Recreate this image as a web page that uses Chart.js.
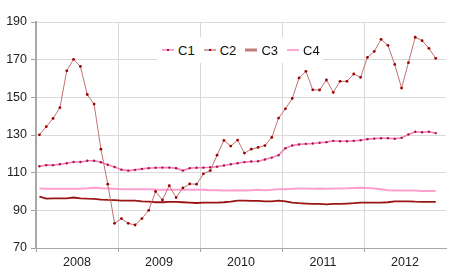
<!DOCTYPE html>
<html>
<head>
<meta charset="utf-8">
<script src="https://cdn.jsdelivr.net/npm/chart.js@4"></script>
<style>
  html, body { margin: 0; padding: 0; background: #ffffff; }
  #wrap { position: relative; width: 450px; height: 279px; }
  #legend {
    position: absolute; left: 157px; top: 37px; height: 26px; width: 166px;
    background: #ffffff; display: flex; align-items: center; padding-left: 5px; box-sizing: border-box;
    font-family: 'Liberation Sans', Arial, sans-serif; font-size: 13px; color: #111111;
  }
  #legend .item { display: flex; align-items: center; width: 41.7px; flex: none; }
  #legend canvas { margin-right: 4px; }
</style>
</head>
<body>
<div id="wrap"><canvas id="chart"></canvas><div id="legend"></div></div>
<script>
// monthly values, Jan 2008 .. Nov 2012
const years = ['2008', '2009', '2010', '2011', '2012'];
const seriesNames = ['C1', 'C2', 'C3', 'C4'];

const c1 = [
  113.4, 114, 114, 114.5, 115, 115.7, 115.7, 116.3, 116.3, 115.5, 114.2, 113,
  111.6, 111.1, 111.5, 112, 112.4, 112.6, 112.7, 112.7, 112.4, 111.1, 112.4, 112.6,
  112.7, 112.9, 113.2, 113.8, 114.5, 115, 115.6, 115.9, 116.1, 117, 118, 119.3,
  123, 124.4, 125, 125.3, 125.5, 125.9, 126.2, 126.9, 126.7, 126.7, 126.9, 127.2,
  127.8, 128.1, 128.3, 128.3, 128, 128.5, 130.3, 131.7, 131.5, 131.7, 131
];
const c2 = [
  130.1, 134.4, 138.8, 144.5, 164.1, 170.2, 166.4, 151.5, 146.4, 122.5, 103.9, 83.1,
  85.6, 83.1, 82.2, 85.6, 90, 100, 95.5, 103.1, 96.8, 101.9, 104, 103.9,
  109.4, 111.1, 119.3, 127.1, 124.1, 127.3, 120.4, 122.5, 123.4, 124.4, 128.7, 139,
  143.9, 149.4, 160.3, 163.8, 154, 153.9, 159.2, 152.6, 158.5, 158.5, 162.4, 160.6,
  171.2, 174.4, 180.8, 177.6, 167.5, 154.9, 168.4, 181.9, 180.1, 176, 170.7
];
const c3 = [
  97.3, 96.2, 96.4, 96.4, 96.4, 96.8, 96.4, 96.2, 96.1, 95.7, 95.5, 95.4,
  95.2, 95.2, 95.2, 94.8, 94.6, 94.3, 94.3, 94.5, 94.5, 94.3, 94.1, 93.9,
  94.1, 94.1, 94.1, 94.3, 94.6, 95.2, 95.2, 95, 95, 94.8, 94.8, 95.2,
  94.8, 94.1, 93.8, 93.6, 93.4, 93.4, 93.2, 93.4, 93.4, 93.6, 93.8, 94.1,
  94.1, 94.1, 94.1, 94.3, 94.8, 94.8, 94.8, 94.6, 94.5, 94.5, 94.5
];
const c4 = [
  101.6, 101.4, 101.4, 101.4, 101.4, 101.4, 101.5, 101.7, 102, 101.7, 101.6, 101.4,
  101.2, 101.2, 101.2, 101.2, 101.2, 101, 100.9, 100.9, 100.9, 100.9, 100.9, 100.9,
  100.9, 100.7, 100.7, 100.5, 100.5, 100.7, 100.5, 100.7, 100.9, 100.7, 100.9, 101.2,
  101.2, 101.4, 101.6, 101.6, 101.4, 101.6, 101.4, 101.6, 101.6, 101.7, 101.9, 102,
  101.9, 101.6, 101.2, 100.7, 100.5, 100.5, 100.5, 100.5, 100.3, 100.3, 100.3
];
const yTicks = [70, 90, 110, 130, 150, 170, 190];

// points sit in the middle of their month
const toPoints = arr => arr.map((v, i) => ({ x: i + 0.5, y: v }));

// small legend swatches: line with optional dot
function makeIcon(lineColor, lineWidth, dotColor) {
  const c = document.createElement('canvas');
  c.width = 12; c.height = 6;
  const g = c.getContext('2d');
  g.strokeStyle = lineColor;
  g.lineWidth = lineWidth;
  g.beginPath(); g.moveTo(0, 3); g.lineTo(12, 3); g.stroke();
  if (dotColor) {
    g.fillStyle = dotColor;
    g.fillRect(5, 2, 2, 2);
  }
  return c;
}
const legendIcons = [
  makeIcon('#f7a6cf', 2, '#b01040'),
  makeIcon('#b54848', 1, '#a00000'),
  makeIcon('#c27a7a', 3, null),
  makeIcon('#ffa6d2', 2, null)
];

// html legend sitting on top of the plot
const htmlLegend = {
  id: 'htmlLegend',
  afterUpdate(chart) {
    const box = document.getElementById('legend');
    box.innerHTML = '';
    chart.data.datasets.forEach((ds, i) => {
      const item = document.createElement('div');
      item.className = 'item';
      item.appendChild(legendIcons[i]);
      const txt = document.createElement('span');
      txt.textContent = ds.label;
      item.appendChild(txt);
      box.appendChild(item);
    });
  }
};

const yearGrid = v => v % 12 === 0 && v > 0 && v < 60;

new Chart(document.getElementById('chart'), {
  type: 'line',
  data: {
    datasets: [
      {
        label: seriesNames[0],
        data: toPoints(c1),
        borderColor: '#f37fbd',
        borderWidth: 1.6,
        pointRadius: 1.2,
        pointBackgroundColor: '#b01040',
        pointBorderWidth: 0,
        order: 2
      },
      {
        label: seriesNames[1],
        data: toPoints(c2),
        borderColor: '#c27272',
        borderWidth: 1,
        pointRadius: 1.4,
        pointBackgroundColor: '#a00000',
        pointBorderWidth: 0,
        order: 1
      },
      {
        label: seriesNames[2],
        data: toPoints(c3),
        borderColor: '#9a1414',
        borderWidth: 1.8,
        pointRadius: 0,
        order: 3
      },
      {
        label: seriesNames[3],
        data: toPoints(c4),
        borderColor: '#ff9fcf',
        borderWidth: 2,
        pointRadius: 0,
        order: 4
      }
    ]
  },
  options: {
    responsive: true,
    maintainAspectRatio: false,
    animation: false,
    events: [],
    layout: { padding: { top: 22, right: 3, bottom: 0, left: 6 } },
    elements: { line: { tension: 0 } },
    plugins: {
      tooltip: { enabled: false },
      legend: { display: false }
    },
    scales: {
      x: {
        type: 'linear',
        min: 0,
        max: 60,
        afterFit(scale) { scale.height = 31; },
        afterBuildTicks(scale) {
          scale.ticks = [];
          for (let v = 0; v <= 60; v += 6) scale.ticks.push({ value: v });
        },
        ticks: {
          autoSkip: false,
          maxRotation: 0,
          padding: 3,
          color: '#222222',
          font: { family: "'Liberation Sans', Arial, sans-serif", size: 12.5 },
          callback: v => (v % 12 === 6 ? years[(v - 6) / 12] : '')
        },
        grid: {
          color: ctx => (ctx.tick && yearGrid(ctx.tick.value) ? '#d8d8d8' : 'rgba(0,0,0,0)'),
          tickColor: ctx => (ctx.tick && ctx.tick.value % 12 === 0 && ctx.tick.value < 60 ? '#a0a0a0' : 'rgba(0,0,0,0)'),
          tickLength: 4,
          lineWidth: 1
        },
        border: { color: '#a8a8a8', width: 1 }
      },
      y: {
        min: 70,
        max: 190,
        afterFit(scale) { scale.width = 30; },
        afterBuildTicks(scale) {
          scale.ticks = yTicks.map(v => ({ value: v }));
        },
        ticks: {
          padding: 4,
          color: '#222222',
          font: { family: "'Liberation Sans', Arial, sans-serif", size: 12.5 }
        },
        grid: {
          color: '#dadada',
          tickColor: '#a0a0a0',
          tickLength: 5,
          lineWidth: 1
        },
        border: { color: '#a8a8a8', width: 2 }
      }
    }
  },
  plugins: [htmlLegend]
});
</script>
</body>
</html>
